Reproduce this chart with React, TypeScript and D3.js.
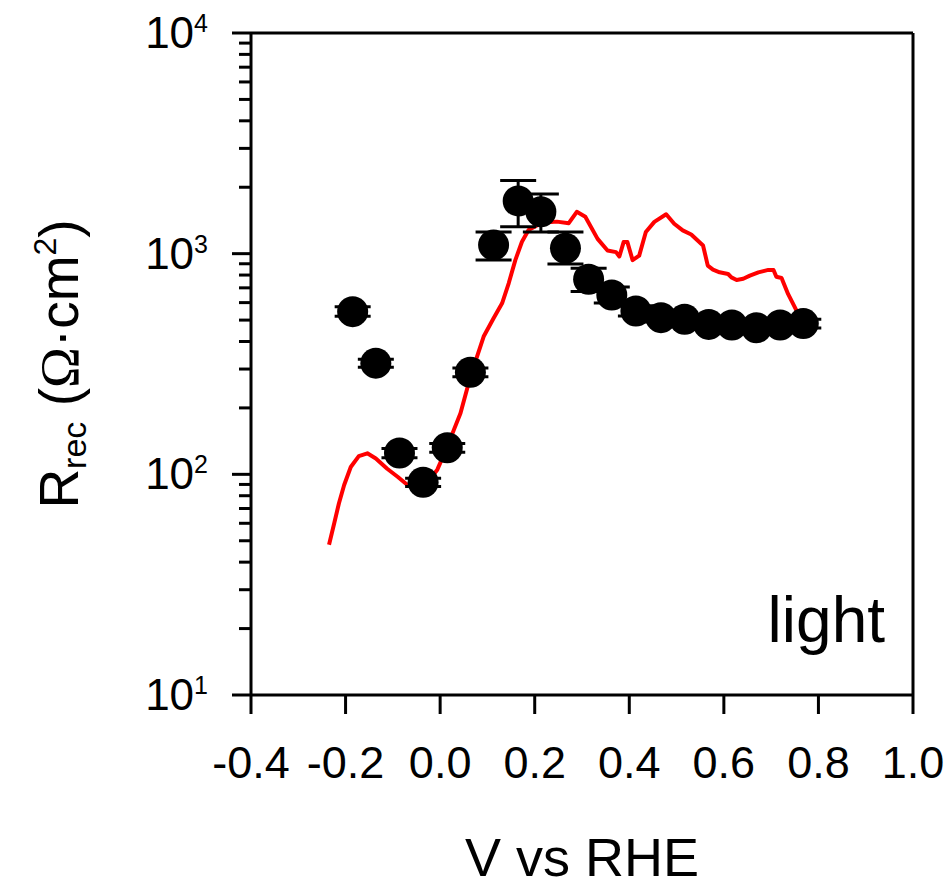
import React from 'react';
import * as d3 from 'd3';

const xTickValues = [-0.4, -0.2, 0.0, 0.2, 0.4, 0.6, 0.8, 1.0];
const xTickLabels = ['-0.4', '-0.2', '0.0', '0.2', '0.4', '0.6', '0.8', '1.0'];
const yDecadeExponents = [1, 2, 3, 4];

// measured points (V vs RHE, Rrec in Ohm cm2)
const potential = [-0.185, -0.136, -0.086, -0.036, 0.015, 0.064, 0.113, 0.165, 0.213, 0.265, 0.314, 0.363, 0.414, 0.467, 0.517, 0.568, 0.617, 0.669, 0.719, 0.768];
const rrec = [546, 319, 125, 92, 132, 290, 1095, 1734, 1549, 1058, 766, 650, 550, 513, 504, 478, 475, 462, 475, 482];
const rrecLow = [520, 306, 119, 88, 126, 277, 935, 1325, 1254, 898, 673, 598, 522, 490, 482, 457, 454, 441, 454, 461];
const rrecHigh = [574, 332, 131, 96, 138, 303, 1254, 2144, 1862, 1254, 859, 707, 580, 538, 528, 500, 497, 484, 497, 504];

// red curve
const curveV = [-0.235, -0.224, -0.214, -0.203, -0.189, -0.172, -0.154, -0.136, -0.112, -0.090, -0.069, -0.034, -0.006, 0.015, 0.029, 0.043, 0.064, 0.092, 0.113, 0.131, 0.145, 0.159, 0.173, 0.187, 0.215, 0.247, 0.272, 0.289, 0.307, 0.333, 0.354, 0.372, 0.379, 0.388, 0.396, 0.407, 0.421, 0.435, 0.453, 0.478, 0.495, 0.513, 0.531, 0.556, 0.566, 0.577, 0.591, 0.609, 0.616, 0.627, 0.641, 0.655, 0.673, 0.694, 0.705, 0.711, 0.722, 0.736, 0.754];
const curveR = [48, 60, 74, 89.5, 108, 121, 124.5, 118, 106, 97.5, 89.5, 88, 105, 133, 159, 189, 277, 421, 510, 596, 734, 935, 1133, 1279, 1380, 1397, 1374, 1548, 1471, 1167, 1033, 1016, 971, 1128, 1128, 935, 980, 1254, 1393, 1508, 1367, 1275, 1222, 1089, 883, 846, 823, 809, 781, 760, 770, 795, 823, 844, 844, 786, 776, 655, 550];

const FONT = '"Liberation Sans", Arial, Helvetica, sans-serif';

export default function App() {
  const W = 951;
  const H = 888;
  const left = 251, right = 913, top = 33, bottom = 695;
  const x = d3.scaleLinear().domain([-0.4, 1.0]).range([left, right]);
  const y = d3.scaleLog().domain([10, 10000]).range([bottom, top]);

  const linePath = d3
    .line<number>()
    .x((_, i) => x(curveV[i]))
    .y((d) => y(d))(curveR) as string;

  const minorTicks = y.ticks().filter((t) => {
    const e = Math.log10(t);
    return Math.abs(e - Math.round(e)) > 1e-6;
  });

  const capHalf = 18;
  const r = 15.5;

  return (
    <svg
      width={W}
      height={H}
      viewBox={`0 0 ${W} ${H}`}
      style={{ position: 'absolute', left: 0, top: 0, background: '#fff' }}
      fontFamily={FONT}
    >
      <rect x={0} y={0} width={W} height={H} fill="#fff" />

      {/* red curve */}
      <path d={linePath} fill="none" stroke="#ff0000" strokeWidth={4} strokeLinejoin="round" />

      {/* error bars */}
      {potential.map((v, i) => (
        <g key={'e' + i} stroke="#000" strokeWidth={3}>
          <line x1={x(v)} x2={x(v)} y1={y(rrecLow[i])} y2={y(rrecHigh[i])} />
          <line x1={x(v) - capHalf} x2={x(v) + capHalf} y1={y(rrecLow[i])} y2={y(rrecLow[i])} />
          <line x1={x(v) - capHalf} x2={x(v) + capHalf} y1={y(rrecHigh[i])} y2={y(rrecHigh[i])} />
        </g>
      ))}

      {/* markers */}
      {potential.map((v, i) => (
        <circle key={'c' + i} cx={x(v)} cy={y(rrec[i])} r={r} fill="#000" />
      ))}

      {/* frame */}
      <g stroke="#000" strokeWidth={3} fill="none">
        <line x1={left} x2={right} y1={top} y2={top} />
        <line x1={right} x2={right} y1={top} y2={bottom} />
        <line x1={left} x2={right} y1={bottom} y2={bottom} />
        <line x1={left} x2={left} y1={top} y2={bottom} />
      </g>

      {/* x ticks */}
      {xTickValues.map((t, i) => (
        <g key={'xt' + i}>
          <line x1={x(t)} x2={x(t)} y1={bottom} y2={bottom + 19} stroke="#000" strokeWidth={3} />
          <text x={x(t)} y={778} textAnchor="middle" fontSize={45} fill="#000">
            {xTickLabels[i]}
          </text>
        </g>
      ))}

      {/* y ticks */}
      {yDecadeExponents.map((e) => (
        <g key={'yt' + e}>
          <line x1={left - 19} x2={left} y1={y(Math.pow(10, e))} y2={y(Math.pow(10, e))} stroke="#000" strokeWidth={3} />
          <text x={208} y={y(Math.pow(10, e)) + 15} textAnchor="end" fontSize={44} fill="#000">
            10
            <tspan fontSize={25} dy={-16}>
              {e}
            </tspan>
          </text>
        </g>
      ))}
      {minorTicks.map((t, i) => (
        <line key={'mt' + i} x1={left - 12} x2={left} y1={y(t)} y2={y(t)} stroke="#000" strokeWidth={3} />
      ))}

      {/* axis titles */}
      <text x={582} y={876} textAnchor="middle" fontSize={54} fill="#000">
        V vs RHE
      </text>
      <text transform="translate(78,364) rotate(-90)" textAnchor="middle" fontSize={55} fill="#000">
        R
        <tspan fontSize={34} dy={8}>rec</tspan>
        <tspan dy={-8}>{' ('}</tspan>
        <tspan fontFamily='"Liberation Serif", "Times New Roman", serif'>Ω</tspan>
        <tspan>·cm</tspan>
        <tspan fontSize={32} dy={-22}>2</tspan>
        <tspan dy={22}>)</tspan>
      </text>

      {/* annotation */}
      <text x={885} y={642} textAnchor="end" fontSize={64} fill="#000">
        light
      </text>
    </svg>
  );
}
